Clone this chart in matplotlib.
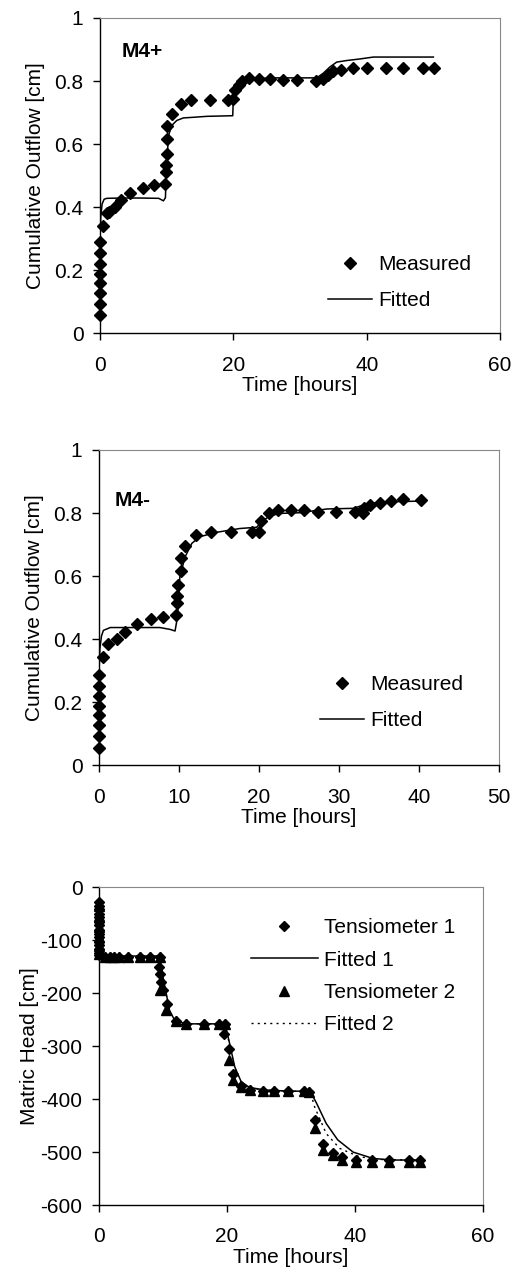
import matplotlib
matplotlib.use("Agg")
import matplotlib.pyplot as plt
from matplotlib.ticker import FormatStrFormatter

plt.rcParams['font.family'] = ['Liberation Sans', 'DejaVu Sans']
plt.rcParams['axes.unicode_minus'] = False

# --- M4+ ---
m4p_t = [0, 0, 0, 0, 0, 0, 0, 0, 0.4, 1.0, 1.35, 2.2, 3.2, 4.5, 6.5, 8.1, 9.7, 9.9, 9.9,
         10.0, 10.0, 10.1, 10.8, 12.2, 13.7, 16.5, 19.2, 20.0, 20.2, 20.8, 21.3, 22.3,
         23.9, 25.5, 27.5, 29.5, 32.4, 33.4, 34.2, 34.9, 36.2, 37.9, 40.1, 42.9, 45.4,
         48.4, 50.1]
m4p_v = [0.058, 0.093, 0.127, 0.159, 0.187, 0.219, 0.254, 0.288, 0.341, 0.381, 0.386,
         0.400, 0.423, 0.444, 0.462, 0.471, 0.473, 0.513, 0.534, 0.569, 0.616, 0.656,
         0.696, 0.728, 0.741, 0.741, 0.741, 0.743, 0.772, 0.788, 0.799, 0.810, 0.806,
         0.806, 0.802, 0.802, 0.799, 0.806, 0.820, 0.831, 0.836, 0.841, 0.841, 0.841,
         0.841, 0.841, 0.841]
m4p_fit_t = [0, 0.1, 0.3, 0.6, 1.0, 3, 6, 8.8, 9.5, 9.8, 10.0, 10.3, 10.8, 11.5, 12.5,
             14, 16, 19.9, 20.0, 20.3, 20.8, 21.5, 22.5, 24, 26, 32.5, 33.5, 34.5, 35.5,
             37, 39, 41, 44, 50]
m4p_fit_v = [0.30, 0.37, 0.41, 0.425, 0.428, 0.429, 0.429, 0.428, 0.42, 0.43, 0.55,
             0.63, 0.66, 0.675, 0.683, 0.685, 0.688, 0.69, 0.75, 0.77, 0.785, 0.795,
             0.803, 0.808, 0.81, 0.81, 0.825, 0.845, 0.86, 0.865, 0.87, 0.876, 0.876,
             0.876]

# --- M4- ---
m4m_t = [0, 0, 0, 0, 0, 0, 0, 0, 0.46, 1.17, 2.3, 3.2, 4.7, 6.5, 8.0, 9.6, 9.7, 9.7,
         9.9, 10.2, 10.3, 10.75, 12.1, 14.0, 16.5, 19.1, 20.0, 20.3, 21.3, 22.4, 24.0,
         25.6, 27.4, 29.6, 32.0, 33.0, 33.1, 33.9, 35.1, 36.5, 38.0, 40.25]
m4m_v = [0.055, 0.093, 0.129, 0.159, 0.187, 0.219, 0.252, 0.286, 0.344, 0.384, 0.402,
         0.423, 0.448, 0.463, 0.469, 0.476, 0.515, 0.537, 0.571, 0.617, 0.656, 0.695,
         0.730, 0.739, 0.739, 0.739, 0.739, 0.776, 0.799, 0.810, 0.810, 0.810, 0.802,
         0.802, 0.802, 0.799, 0.815, 0.825, 0.833, 0.838, 0.843, 0.841]
m4m_fit_t = [0, 0.1, 0.3, 0.54, 1.4, 3.5, 7.6, 8.9, 9.5, 9.8, 10.1, 10.75, 11.6, 12.6,
             14.7, 17.6, 19.7, 20.3, 21.4, 22.8, 25.1, 28.5, 31.8, 33.0, 34.7, 36.8,
             40.25]
m4m_fit_v = [0.30, 0.37, 0.41, 0.428, 0.437, 0.437, 0.437, 0.431, 0.426, 0.47, 0.598,
             0.661, 0.704, 0.725, 0.739, 0.751, 0.755, 0.772, 0.792, 0.799, 0.801,
             0.813, 0.815, 0.825, 0.833, 0.836, 0.838]

# --- Matric head ---
ten1_t = [0, 0, 0, 0, 0, 0, 0, 0, 0, 0, 0, 0, 0, 0, 0, 0.9, 1.7, 2.4, 3.1, 4.5, 6.4, 8.0,
          9.5, 9.4, 9.5, 9.7, 10.0, 10.6, 12.1, 13.6, 16.4, 18.75, 19.7, 19.6, 20.3, 21.0,
          22.2, 23.6, 25.6, 27.4, 29.6, 32.1, 32.8, 33.7, 35.0, 36.6, 38.0, 40.1, 42.7,
          45.3, 48.4, 50.1]
ten1_v = [-28, -35, -42, -50, -57, -65, -72, -80, -88, -95, -103, -110, -117, -124, -128,
          -131, -131, -131, -131, -131, -131, -131, -131, -151, -163, -179, -195, -220,
          -253, -258, -258, -258, -258, -278, -305, -352, -376, -383, -385, -385, -385,
          -385, -386, -439, -484, -501, -510, -514, -515, -515, -515, -515]
ten2_t = [0, 0, 0, 0, 0, 0, 0.9, 1.7, 2.4, 3.1, 4.5, 6.4, 8.0, 9.5, 9.6, 10.5, 12.1, 13.6,
          16.4, 18.75, 19.7, 20.3, 21.0, 22.2, 23.6, 25.6, 27.4, 29.6, 32.1, 32.8, 33.7,
          35.0, 36.5, 37.9, 40.1, 42.7, 45.3, 48.4, 50.1]
ten2_v = [-35, -55, -75, -95, -112, -127, -131, -131, -131, -131, -131, -131, -131, -131,
          -195, -232, -253, -258, -258, -258, -258, -327, -364, -378, -383, -385, -385,
          -385, -385, -386, -454, -496, -506, -514, -518, -518, -518, -518, -518]
fit1_t = [0, 0.1, 0.3, 0.6, 3, 6, 9.5, 10.0, 11.0, 11.8, 13.6, 16, 19.7, 20.4, 21.2,
          22.2, 23.5, 26, 30, 33, 34, 35.5, 37.3, 39.7, 42.8, 45.9, 50]
fit1_v = [-30, -90, -125, -130, -130, -130, -130, -170, -232, -251, -258, -258, -258,
          -295, -339, -367, -378, -383, -385, -385, -408, -446, -477, -500, -512, -515,
          -515]
fit2_t = [0, 0.1, 0.3, 0.6, 3, 6, 9.5, 10.0, 11.0, 11.8, 13.6, 16, 19.7, 20.4, 21.2,
          22.2, 23.5, 26, 30, 33, 33.7, 35.5, 37.6, 40.7, 44, 50]
fit2_v = [-30, -90, -125, -130, -130, -130, -130, -172, -234, -252, -258, -258, -258,
          -298, -342, -368, -379, -383, -385, -386, -415, -465, -493, -509, -514, -515]

FS = 15

fig = plt.figure(figsize=(5.16, 12.82), dpi=100)


def style_axes(ax):
    for s in ['top', 'right']:
        ax.spines[s].set_color('#888888')
        ax.spines[s].set_linewidth(0.8)
    for s in ['left', 'bottom']:
        ax.spines[s].set_linewidth(1.0)
    ax.tick_params(direction='out', length=5, width=1, labelsize=FS)
    ax.tick_params(axis='x', pad=11)
    ax.tick_params(axis='y', pad=7)


# panel 1
ax1 = fig.add_axes([0.194, 0.740, 0.775, 0.246])
ax1.plot(m4p_t, m4p_v, 'D', color='black', ms=6.2, label='Measured', clip_on=False)
ax1.plot(m4p_fit_t, m4p_fit_v, '-', color='black', lw=1.1, label='Fitted')
ax1.set_xlim(0, 60)
ax1.set_ylim(0, 1)
ax1.set_xticks([0, 20, 40, 60])
ax1.set_yticks([0, 0.2, 0.4, 0.6, 0.8, 1])
ax1.yaxis.set_major_formatter(FormatStrFormatter('%g'))
ax1.set_xlabel('Time [hours]', fontsize=FS, labelpad=1)
ax1.set_ylabel('Cumulative Outflow [cm]', fontsize=FS, labelpad=7)
ax1.text(0.055, 0.895, 'M4+', transform=ax1.transAxes, fontsize=FS, fontweight='bold',
         va='center', ha='left')
ax1.legend(loc='upper left', bbox_to_anchor=(0.57, 0.249), frameon=False, fontsize=FS,
           borderaxespad=0, borderpad=0, handlelength=2.1, handletextpad=0.3,
           labelspacing=0.84)
style_axes(ax1)

# panel 2
ax2 = fig.add_axes([0.192, 0.403, 0.775, 0.246])
ax2.plot(m4m_t, m4m_v, 'D', color='black', ms=6.2, label='Measured', clip_on=False)
ax2.plot(m4m_fit_t, m4m_fit_v, '-', color='black', lw=1.1, label='Fitted')
ax2.set_xlim(0, 50)
ax2.set_ylim(0, 1)
ax2.set_xticks([0, 10, 20, 30, 40, 50])
ax2.set_yticks([0, 0.2, 0.4, 0.6, 0.8, 1])
ax2.yaxis.set_major_formatter(FormatStrFormatter('%g'))
ax2.set_xlabel('Time [hours]', fontsize=FS, labelpad=1)
ax2.set_ylabel('Cumulative Outflow [cm]', fontsize=FS, labelpad=7)
ax2.text(0.04, 0.84, 'M4-', transform=ax2.transAxes, fontsize=FS, fontweight='bold',
         va='center', ha='left')
ax2.legend(loc='upper left', bbox_to_anchor=(0.5525, 0.287), frameon=False, fontsize=FS,
           borderaxespad=0, borderpad=0, handlelength=2.1, handletextpad=0.3,
           labelspacing=0.84)
style_axes(ax2)

# panel 3
ax3 = fig.add_axes([0.192, 0.060, 0.744, 0.248])
ax3.plot(ten1_t, ten1_v, 'D', color='black', ms=4.8, label='Tensiometer 1', clip_on=False)
ax3.plot(fit1_t, fit1_v, '-', color='black', lw=1.1, label='Fitted 1')
ax3.plot(ten2_t, ten2_v, '^', color='black', ms=6.5, label='Tensiometer 2', clip_on=False)
ax3.plot(fit2_t, fit2_v, color='black', lw=1.0, ls=(0, (1.5, 3)), label='Fitted 2')
ax3.set_xlim(0, 60)
ax3.set_ylim(-600, 0)
ax3.set_xticks([0, 20, 40, 60])
ax3.set_yticks([-600, -500, -400, -300, -200, -100, 0])
ax3.set_xlabel('Time [hours]', fontsize=FS, labelpad=1)
ax3.set_ylabel('Matric Head [cm]', fontsize=FS, labelpad=1)
ax3.legend(loc='upper left', bbox_to_anchor=(0.396, 0.902), frameon=False, fontsize=FS,
           borderaxespad=0, borderpad=0, handlelength=3.2, handletextpad=0.3,
           labelspacing=0.64)
style_axes(ax3)

fig.savefig('out.png', dpi=100)
